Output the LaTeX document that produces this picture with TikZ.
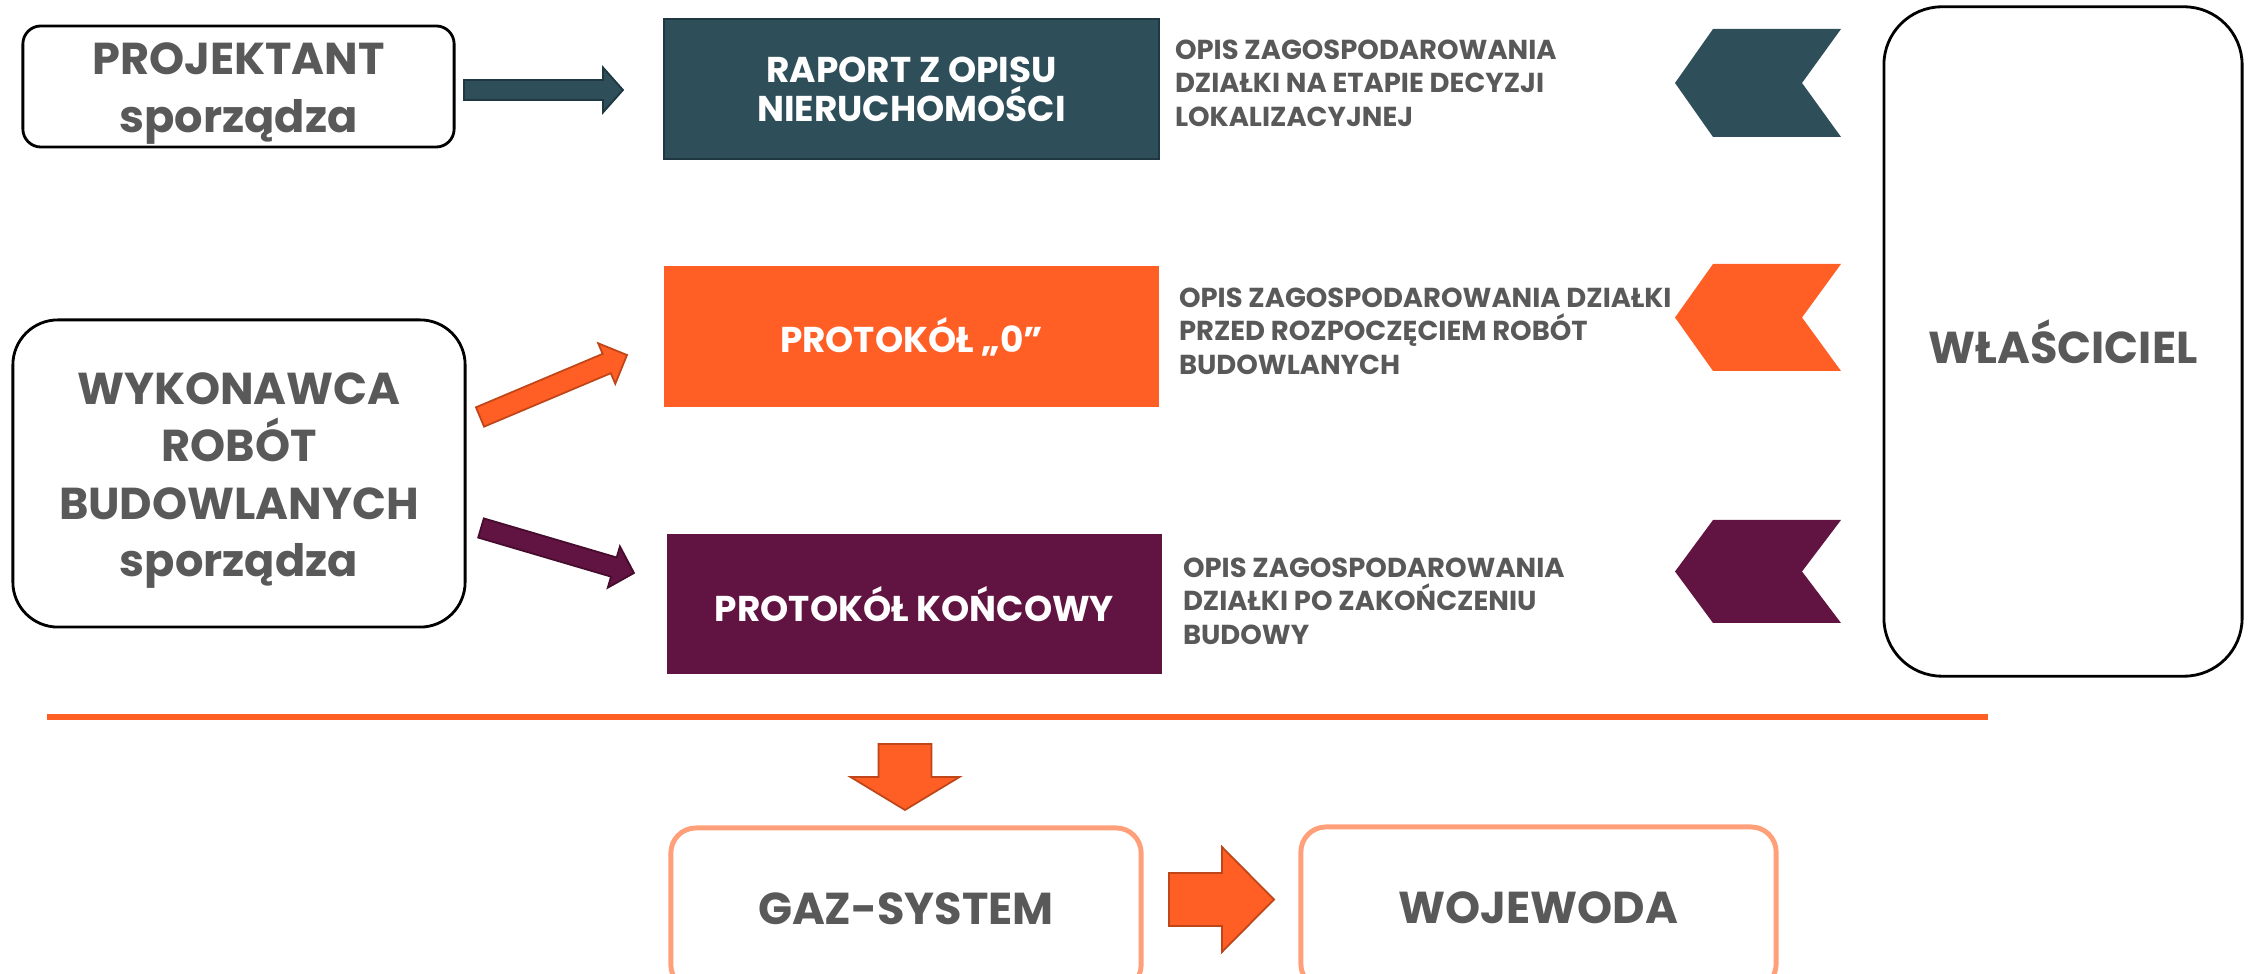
\documentclass[tikz,border=0pt]{standalone}
\usepackage{fontspec}
\setmainfont{Poppins}
\usetikzlibrary{calc}
\definecolor{teal1}{RGB}{46,78,89}
\definecolor{teal2}{RGB}{30,55,64}
\definecolor{orng}{RGB}{255,94,36}
\definecolor{orng2}{RGB}{190,70,25}
\definecolor{purp}{RGB}{97,20,65}
\definecolor{purp2}{RGB}{70,12,45}
\definecolor{txt}{RGB}{89,89,89}
\definecolor{lorng}{RGB}{255,160,122}
% fat block arrow: style, from, to, shaft half width, head half width, head length
\newcommand\fatarrow[6]{%
  \coordinate (fa-h) at ($(#3)!#6!(#2)$);
  \draw[#1] ($(#2)!#4!90:(#3)$) -- ($(fa-h)!#4!90:(#3)$) -- ($(fa-h)!#5!90:(#3)$)
    -- (#3) -- ($(fa-h)!#5!-90:(#3)$) -- ($(fa-h)!#4!-90:(#3)$)
    -- ($(#2)!#4!-90:(#3)$) -- cycle;}
% chevron: colour, y centre, half height
\newcommand\chevron[3]{%
  \fill[#1] (1675,#2) -- (1713,#2-#3) -- (1841,#2-#3) -- (1802,#2)
    -- (1841,#2+#3) -- (1713,#2+#3) -- cycle;}
\begin{document}
\begin{tikzpicture}[x=0.01cm,y=-0.01cm,
  every node/.style={inner sep=0pt, outer sep=0pt},
  big/.style={font=\bfseries\fontsize{12.7}{16.3}\selectfont, text=txt, align=center},
  roundbox/.style={draw=black, line width=0.8pt, fill=white, rounded corners=#1},
  inlabel/.style={label={[big, yshift=-0.07cm]center:#1}},
  colbox/.style={minimum width=4.95cm, minimum height=1.4cm,
    font=\bfseries\fontsize{10.2}{10}\selectfont, text=white, align=center},
  endbox/.style={draw=lorng, line width=1.4pt, fill=white, rounded corners=0.25cm,
    minimum height=1.62cm, big},
  desc/.style={anchor=north west, align=left,
    font=\bfseries\fontsize{7.8}{9.5}\selectfont, text=txt},
  tealarrow/.style={fill=teal1, draw=teal2, line width=0.5pt},
  orarrow/.style={fill=orng, draw=orng2, line width=0.5pt},
  puarrow/.style={fill=purp, draw=purp2, line width=0.5pt}]
\useasboundingbox (0,0) rectangle (2249,974);
\clip (0,0) rectangle (2249,974);

% left actors
\node[roundbox=0.18cm, minimum width=4.31cm, minimum height=1.21cm,
  inlabel={PROJEKTANT\\sporządza}] (proj) at (238.5,86.5) {};
\node[roundbox=0.45cm, minimum width=4.52cm, minimum height=3.07cm,
  inlabel={WYKONAWCA\\ROBÓT\\BUDOWLANYCH\\sporządza}] (wyk) at (239,473.5) {};

% documents
\node[colbox, fill=teal1, draw=teal2, line width=0.5pt] (raport) at (911.5,89)
  {RAPORT Z OPISU\\NIERUCHOMOŚCI};
\node[colbox, fill=orng] (p0) at (911.5,336.5) {PROTOKÓŁ „0”};
\node[colbox, fill=purp] (pk) at (914.5,604) {PROTOKÓŁ KOŃCOWY};

% descriptions
\node[desc] (d1) at (1175,40) {OPIS ZAGOSPODAROWANIA\\DZIAŁKI NA ETAPIE DECYZJI\\LOKALIZACYJNEJ};
\node[desc] (d2) at (1179,288) {OPIS ZAGOSPODAROWANIA DZIAŁKI\\PRZED ROZPOCZĘCIEM ROBÓT\\BUDOWLANYCH};
\node[desc] (d3) at (1183,558) {OPIS ZAGOSPODAROWANIA\\DZIAŁKI PO ZAKOŃCZENIU\\BUDOWY};

% owner
\node[roundbox=0.58cm, minimum width=3.58cm, minimum height=6.69cm, big] (wlas)
  at (2063,341.5) {WŁAŚCICIEL};

% chevrons
\chevron{teal1}{83}{54}
\chevron{orng}{317.5}{53.5}
\chevron{purp}{571.5}{51.5}

% arrows from actors to documents
\coordinate (a1s) at (464,90);   \coordinate (a1e) at (623,90);
\coordinate (a2s) at (480,417);  \coordinate (a2e) at (627,355);
\coordinate (a3s) at (481,528);  \coordinate (a3e) at (634,573);
\fatarrow{tealarrow}{a1s}{a1e}{0.10cm}{0.225cm}{0.20cm}
\fatarrow{orarrow}{a2s}{a2e}{0.105cm}{0.22cm}{0.22cm}
\fatarrow{puarrow}{a3s}{a3e}{0.10cm}{0.215cm}{0.21cm}

% separator
\draw[orng, line width=1.7pt] (47,717) -- (1988,717);

% bottom flow
\node[endbox, minimum width=4.70cm] (gaz) at (906,909) {GAZ-SYSTEM};
\node[endbox, minimum width=4.75cm] (woj) at (1538.5,908) {WOJEWODA};
\coordinate (a4s) at (905,744);   \coordinate (a4e) at (905,810);
\coordinate (a5s) at (1169,899.5); \coordinate (a5e) at (1274,899.5);
\fatarrow{orarrow}{a4s}{a4e}{0.265cm}{0.545cm}{0.33cm}
\fatarrow{orarrow}{a5s}{a5e}{0.265cm}{0.525cm}{0.52cm}
\end{tikzpicture}
\end{document}
